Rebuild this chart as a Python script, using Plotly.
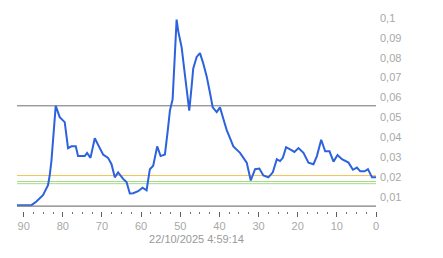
import plotly.graph_objects as go

# Age (units ago) and value of the series
ages = [91.7, 88.0, 86.75, 85.06, 83.78, 83.35, 82.91, 82.50, 81.81, 80.79,
        79.51, 78.66, 77.79, 76.69, 76.11, 74.39, 73.80, 72.93, 71.83, 70.55,
        69.71, 68.43, 67.56, 66.72, 65.87, 64.59, 63.72, 62.88, 62.03, 60.75,
        59.63, 58.60, 57.76, 56.91, 55.89, 55.02, 53.92, 53.23, 52.64, 51.95,
        51.36, 50.93, 50.52, 49.65, 48.80, 48.21, 47.70, 47.09, 46.68, 45.81,
        44.96, 44.12, 43.25, 42.41, 41.71, 40.69, 39.85, 39.00, 38.13, 37.29,
        36.44, 34.73, 33.02, 31.99, 30.89, 29.79, 28.77, 27.49, 26.36, 25.34,
        24.50, 23.80, 22.96, 21.50, 20.84, 19.81, 18.53, 17.25, 15.97, 15.10,
        14.00, 12.98, 11.88, 10.85, 9.83, 8.70, 7.02, 5.89, 4.87, 4.02,
        2.92, 2.05, 1.02, 0.0]
values = [0.0058, 0.0058, 0.0076, 0.0108, 0.0158, 0.0207, 0.0280, 0.0378, 0.0558, 0.0501,
          0.0476, 0.0345, 0.0354, 0.0354, 0.0305, 0.0305, 0.0321, 0.0296, 0.0395, 0.0345,
          0.0313, 0.0296, 0.0264, 0.0198, 0.0223, 0.0190, 0.0174, 0.0117, 0.0118, 0.0128,
          0.0146, 0.0133, 0.0239, 0.0256, 0.0354, 0.0305, 0.0313, 0.0427, 0.0534, 0.0591,
          0.0820, 0.0992, 0.0934, 0.0853, 0.0713, 0.0624, 0.0534, 0.0657, 0.0746, 0.0804,
          0.0823, 0.0771, 0.0706, 0.0624, 0.0550, 0.0526, 0.0550, 0.0493, 0.0436, 0.0395,
          0.0354, 0.0321, 0.0272, 0.0182, 0.0239, 0.0242, 0.0207, 0.0198, 0.0223, 0.0289,
          0.0280, 0.0296, 0.0350, 0.0334, 0.0326, 0.0345, 0.0321, 0.0272, 0.0264, 0.0305,
          0.0387, 0.0329, 0.0329, 0.0277, 0.0310, 0.0289, 0.0272, 0.0236, 0.0247, 0.0228,
          0.0228, 0.0239, 0.0198, 0.0198]

# Reference levels
ref_levels = [0.0558, 0.0207, 0.0177, 0.0166]
ref_colors = ["#707070", "#f2c45a", "#a4dc88", "#a4dc88"]
baseline = 0.0053

y_tickvals = [0.01, 0.02, 0.03, 0.04, 0.05, 0.06, 0.07, 0.08, 0.09, 0.1]
y_ticktext = ["0,01", "0,02", "0,03", "0,04", "0,05", "0,06", "0,07", "0,08", "0,09", "0,1"]
x_tickvals = [90, 80, 70, 60, 50, 40, 30, 20, 10, 0]
x_title = "22/10/2025 4:59:14"

label_color = "#a8a8a8"
font_family = "Liberation Sans, Arial, sans-serif"

fig = go.Figure()
fig.add_trace(go.Scatter(
    x=ages, y=values, mode="lines",
    line=dict(color="#2c62dd", width=2),
    hoverinfo="skip", showlegend=False,
))

for lvl, col in zip(ref_levels, ref_colors):
    fig.add_shape(type="line", xref="x domain", x0=0, x1=1, yref="y", y0=lvl, y1=lvl,
                  line=dict(color=col, width=1), layer="below")

# bottom baseline of the chart
fig.add_shape(type="line", xref="x domain", x0=0, x1=1, yref="y", y0=baseline, y1=baseline,
              line=dict(color="#808080", width=1.2))

fig.update_layout(
    width=443, height=258,
    margin=dict(l=17, r=67, t=13, b=47),
    paper_bgcolor="white", plot_bgcolor="white",
    font=dict(family=font_family, size=11, color=label_color),
    xaxis=dict(
        range=[91.7, 0],
        tickmode="array", tickvals=x_tickvals,
        ticks="outside", ticklen=5, tickwidth=1.3, tickcolor="#606060",
        minor=dict(dtick=2.5, tick0=0, ticks="outside", ticklen=2, tickwidth=1.3,
                   tickcolor="#707070", showgrid=False),
        showgrid=False, zeroline=False, showline=False,
        tickfont=dict(size=11, color=label_color),
        title=dict(text=x_title, font=dict(size=11, color="#999999"), standoff=4),
    ),
    yaxis=dict(
        range=[0.00285, 0.1], side="right",
        tickvals=y_tickvals, ticktext=y_ticktext, ticklabelstandoff=3,
        showgrid=False, zeroline=False, showline=False, ticks="",
        tickfont=dict(size=11, color=label_color),
    ),
)

fig.write_html("out.html")
